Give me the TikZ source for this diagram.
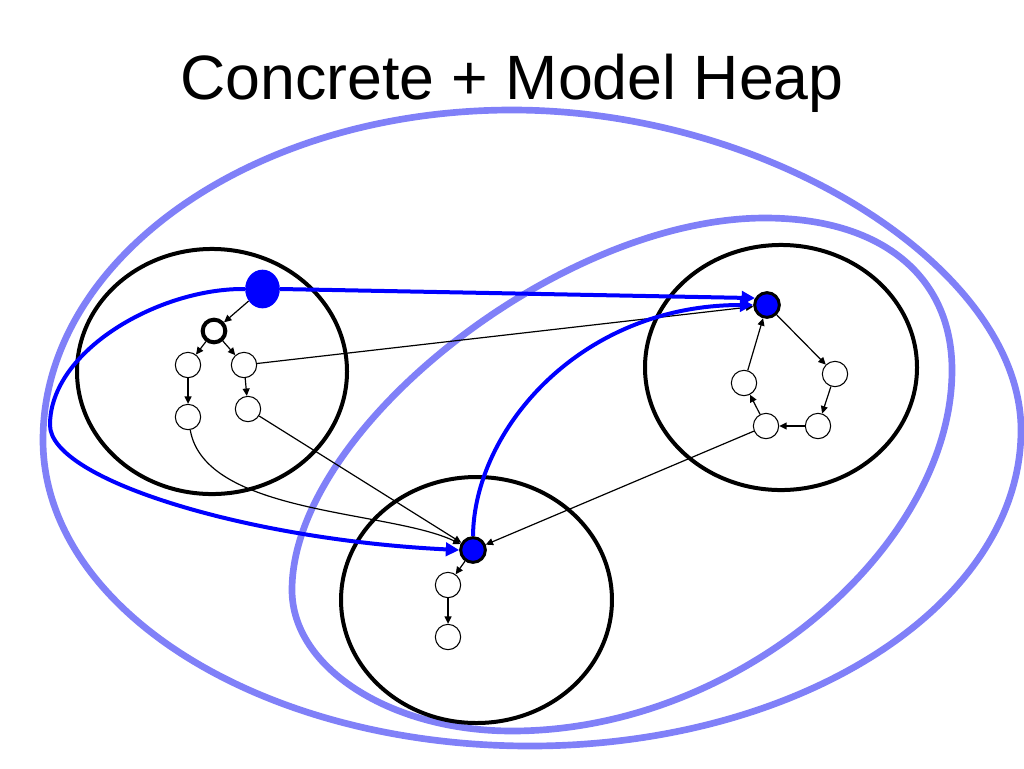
\documentclass[tikz,border=0pt]{standalone}
\usepackage{fontspec}
\setmainfont{Liberation Sans}
\usetikzlibrary{arrows.meta,shapes.geometric}
\definecolor{hblue}{RGB}{0,0,255}
\definecolor{lblue}{RGB}{128,128,248}
\begin{document}
\begin{tikzpicture}[x=0.75pt,y=-0.75pt,
  heap/.style={draw=black,line width=3pt},
  region/.style={draw=lblue,line width=5pt},
  cell/.style={circle,draw=black,fill=white,line width=0.8pt,minimum size=19pt,inner sep=0pt},
  rootcell/.style={circle,draw=black,line width=3pt,fill=white,minimum size=17pt,inner sep=0pt},
  modelcell/.style={circle,draw=black,fill=hblue,line width=2.25pt,minimum size=18.5pt,inner sep=0pt},
  varcell/.style={ellipse,fill=hblue,minimum width=26pt,minimum height=29pt,inner sep=0pt},
  ptr/.style={-{Triangle[length=5.5pt,width=5.2pt]},line width=0.9pt},
  mapto/.style={-{Triangle[length=10pt,width=10pt]},draw=hblue,line width=3pt}
]
\useasboundingbox (0,0) rectangle (1024,768);
\fill[white] (0,0) rectangle (1024,768);

% title
\node[anchor=base,inner sep=0pt,font=\fontsize{47}{56}\selectfont] (title) at (512,99) {Concrete + Model Heap};

% light blue regions
\draw[region] (512,110) .. controls (772,110) and (1021,270) .. (1021,430)
  .. controls (1021,604) and (801,746) .. (530,746)
  .. controls (261,746) and (43,609) .. (43,440)
  .. controls (43,258) and (253,110) .. cycle;
\draw[region] (765,218) .. controls (880,218) and (952,275) .. (952,370)
  .. controls (952,545) and (740,731) .. (512,731)
  .. controls (391,731) and (292,668) .. (292,590)
  .. controls (292,430) and (560,218) .. cycle;

% heaps
\draw[heap] (212,371.5) ellipse [x radius=101.25pt, y radius=91.9pt];
\draw[heap] (781,367.5) ellipse [x radius=102pt, y radius=91.9pt];
\draw[heap] (476.5,600) ellipse [x radius=101.6pt, y radius=92.25pt];

% left heap cells
\node[varcell] (L0) at (262.5,289) {};
\node[rootcell] (L1) at (214,331) {};
\node[cell] (L2) at (188,365) {};
\node[cell] (L3) at (244,365) {};
\node[cell] (L4) at (188,417) {};
\node[cell] (L5) at (248,409) {};

% right heap cells
\node[modelcell] (R0) at (767,305) {};
\node[cell] (R1) at (835,374) {};
\node[cell] (R2) at (818,426) {};
\node[cell] (R3) at (766,426) {};
\node[cell] (R4) at (744,383) {};

% bottom heap cells
\node[modelcell] (B0) at (473,550) {};
\node[cell] (B1) at (448,585) {};
\node[cell] (B2) at (448,637) {};

% pointers
\draw[ptr] (L0) -- (L1);
\draw[ptr] (L1) -- (L2);
\draw[ptr] (L1) -- (L3);
\draw[ptr] (L2) -- (L4);
\draw[ptr] (L3) -- (L5);
\draw[ptr] (L3) -- (R0);
\draw[ptr] (L4) .. controls (205,515) and (390,510) .. (B0);
\draw[ptr] (L5) -- (B0);
\draw[ptr] (R3) -- (B0);
\draw[ptr] (B0) -- (B1);
\draw[ptr] (B1) -- (B2);
\draw[ptr] (R0) -- (R1);
\draw[ptr] (R1) -- (R2);
\draw[ptr] (R2) -- (R3);
\draw[ptr] (R3) -- (R4);
\draw[ptr] (R4) -- (R0);

% model mapping
\draw[mapto] (L0.east) -- (R0.150);
\draw[mapto] (L0.west) .. controls (160,288) and (50,350) .. (50,425)
  .. controls (50,480) and (250,540) .. (B0.west);
\draw[mapto] (B0.north) .. controls (474,430) and (580,305) .. (R0.west);
\end{tikzpicture}
\end{document}
